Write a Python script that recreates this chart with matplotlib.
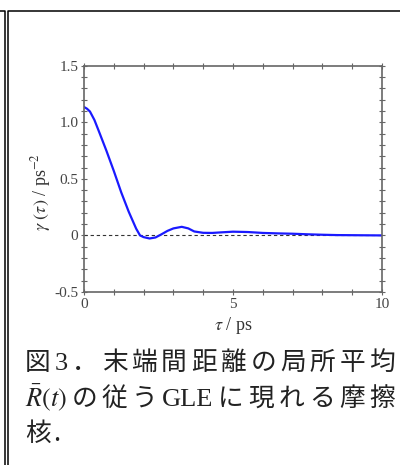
import numpy as np
import matplotlib
matplotlib.use("Agg")
import matplotlib.pyplot as plt
from matplotlib.lines import Line2D
from matplotlib.ticker import MultipleLocator, FuncFormatter

plt.rcParams['mathtext.fontset'] = 'stix'
plt.rcParams['font.family'] = ['Liberation Serif', 'DejaVu Serif']

# friction kernel
tau = [0.0, 0.1, 0.2, 0.35, 0.5, 0.75, 1.0, 1.25, 1.5, 1.75, 1.88, 2.0, 2.2, 2.4, 2.6,
       2.8, 3.0, 3.28, 3.5, 3.7, 4.0, 4.3, 4.6, 5.0, 5.5, 6.0, 6.5, 7.0, 7.5, 8.0, 8.5,
       9.0, 9.5, 10.0]
gamma = [1.135, 1.12, 1.095, 1.02, 0.92, 0.75, 0.57, 0.38, 0.21, 0.06, 0.0, -0.015,
         -0.027, -0.018, 0.01, 0.04, 0.062, 0.076, 0.062, 0.035, 0.023, 0.022, 0.027,
         0.033, 0.03, 0.022, 0.018, 0.015, 0.01, 0.006, 0.003, 0.002, 0.001, 0.0]

xlab = r'$\tau$ / ps'
ylab = r'$\gamma\ (\tau)$ / ps$^{-2}$'

line1 = ['図', '3', '．', '末', '端', '間', '距', '離', 'の', '局', '所', '平', '均']
line2 = [r'$\bar{R}(t)$', 'の', '従', 'う', 'GLE', 'に', '現', 'れ', 'る', '摩', '擦']
line3 = ['核', '.']

W, H = 400, 465
fig = plt.figure(figsize=(W/100, H/100), dpi=100)

ax = fig.add_axes([84/W, 1-292/H, (382-84)/W, (292-65.7)/H])
ax.axhline(0, color='#333333', lw=0.8, dashes=(3, 2.5))
ax.plot(tau, gamma, color='#1a1aff', lw=1.6)
ax.set_xlim(0, 10)
ax.set_ylim(-0.5, 1.5)

ax.xaxis.set_major_locator(MultipleLocator(5))
ax.xaxis.set_minor_locator(MultipleLocator(1))
ax.yaxis.set_major_locator(MultipleLocator(0.5))
ax.yaxis.set_minor_locator(MultipleLocator(0.1))
ax.xaxis.set_major_formatter(FuncFormatter(lambda v, p: '%d' % round(v)))
ax.yaxis.set_major_formatter(FuncFormatter(lambda v, p: '0' if abs(v) < 1e-9 else '%.1f' % v))
ax.tick_params(which='both', direction='inout', top=True, right=True, color='#666666', width=0.8)
ax.tick_params(which='major', length=5, labelsize=11, labelcolor='#444444', pad=1.5)
ax.tick_params(which='minor', length=4)
for s in ax.spines.values():
    s.set_color('#666666')
    s.set_linewidth(1.2)

ax.set_xlabel(xlab, fontsize=13, color='#333333')
ax.set_ylabel(ylab, fontsize=13, color='#333333')
ax.xaxis.set_label_coords(0.5, -0.1)
ax.yaxis.set_label_coords(-0.105, 0.44)

# frame (two boxes side by side, cropped)
for xs, ys in [([0, 4.5, 4.5], [11, 11, H]), ([400, 8, 8], [11, 11, H])]:
    fig.add_artist(Line2D([x/W for x in xs], [1-y/H for y in ys], color='black', lw=1.1,
                          transform=fig.transFigure))

# caption, justified like the original
cjk = dict(family=['Noto Sans CJK JP', 'DejaVu Sans'], fontsize=18.5)
ser = dict(family=['Liberation Serif'], fontsize=19)

def place_line(tokens, ybase, justify=True, x0=25, x1=395):
    arts = []
    for tok in tokens:
        fp = ser if (tok.isascii() and tok != '.') or tok.startswith('$') else cjk
        arts.append(fig.text(0, 1-ybase/H, tok, ha='left', va='baseline', color='#222222', **fp))
    r = fig.canvas.get_renderer()
    widths = [a.get_window_extent(r).width for a in arts]
    gap = (x1-x0-sum(widths))/(len(arts)-1) if justify else 2
    x = x0
    for a, w in zip(arts, widths):
        a.set_x(x/W)
        x += w + gap

place_line(line1, 370)
place_line(line2, 406)
place_line(line3, 441, justify=False)

fig.savefig('out.png', dpi=100)
